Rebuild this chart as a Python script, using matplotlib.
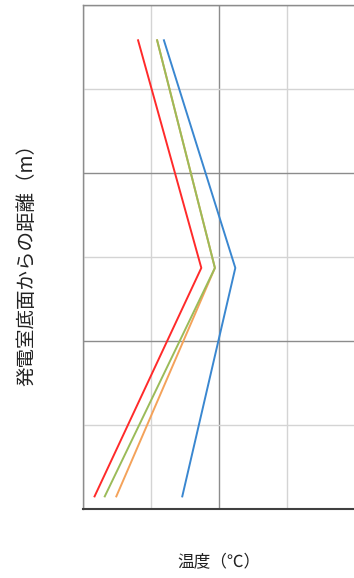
import numpy as np
import matplotlib
matplotlib.use("Agg")
import matplotlib.pyplot as plt
from matplotlib.ticker import MultipleLocator

plt.rcParams['font.family'] = ['Noto Sans CJK JP', 'DejaVu Sans']

# distance from floor (m), three measuring heights
heights = [0.15, 2.87, 5.58]

# temperatures (axis units)
temp_red = [0.17, 1.74, 0.81]
temp_orange = [0.49, 1.94, 1.09]
temp_green = [0.32, 1.94, 1.09]
temp_blue = [1.46, 2.24, 1.19]

W, H = 354, 578
fig = plt.figure(figsize=(W / 100, H / 100), dpi=100)
# axes box in pixels: left 83, right 355, top 5, bottom 509
ax = fig.add_axes([83 / W, (H - 509) / H, (355 - 83) / W, (509 - 5) / H])

ax.plot(temp_orange, heights, color="#F4A25A", lw=1.4)
ax.plot(temp_green, heights, color="#9BBB59", lw=1.4)
ax.plot(temp_red, heights, color="#FF2A2A", lw=1.4)
ax.plot(temp_blue, heights, color="#3A87D0", lw=1.4)

ax.set_xlim(0, 4)
ax.set_ylim(0, 6)
ax.xaxis.set_major_locator(MultipleLocator(2))
ax.xaxis.set_minor_locator(MultipleLocator(1))
ax.yaxis.set_major_locator(MultipleLocator(2))
ax.yaxis.set_minor_locator(MultipleLocator(1))
ax.grid(which="major", color="#8c8c8c", lw=1.0)
ax.grid(which="minor", color="#d4d4d4", lw=1.0)
ax.set_axisbelow(True)
ax.tick_params(which="both", length=0, labelbottom=False, labelleft=False)

for s in ["top", "left", "right"]:
    ax.spines[s].set_color("#8c8c8c")
    ax.spines[s].set_linewidth(1.0)
ax.spines["bottom"].set_color("#404040")
ax.spines["bottom"].set_linewidth(1.5)

fig.text(219 / W, 1 - 563 / H, "温度（℃）", ha="center", va="center",
         fontsize=12, color="#222222")
fig.text(27 / W, 1 - 260 / H, "発電室底面からの距離（m）", ha="center", va="center",
         rotation=90, fontsize=14, color="#222222")

fig.savefig("out.png", dpi=100)
